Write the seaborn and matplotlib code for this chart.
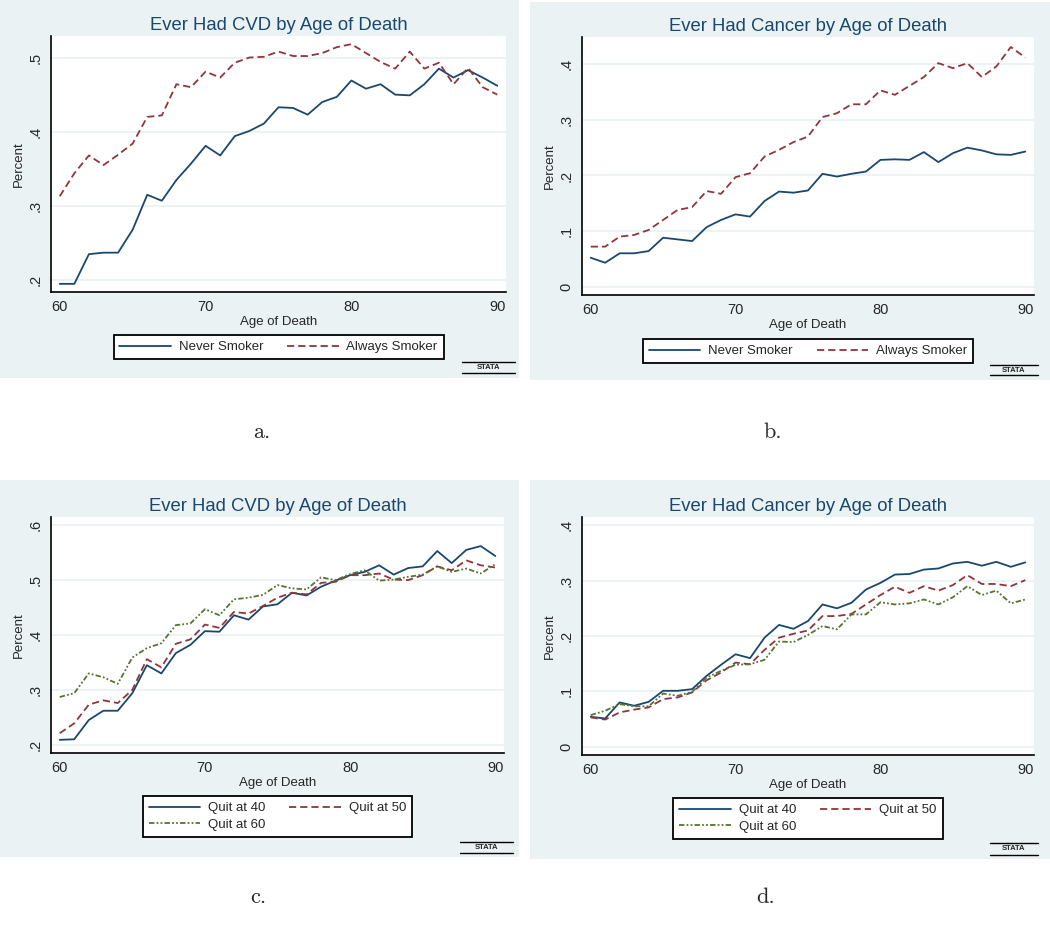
import pandas as pd
import matplotlib.pyplot as plt
import seaborn as sns
from matplotlib.patches import Rectangle
from matplotlib.lines import Line2D
from matplotlib.ticker import FuncFormatter

# ages at death, one point per year
ages = list(range(60, 91))

# panel a: ever had CVD
cvd_never = [0.195, 0.195, 0.235, 0.237, 0.237, 0.268, 0.315, 0.307, 0.335, 0.357,
             0.381, 0.368, 0.394, 0.401, 0.411, 0.433, 0.432, 0.423, 0.440, 0.447,
             0.469, 0.458, 0.464, 0.450, 0.449, 0.464, 0.485, 0.473, 0.483, 0.473, 0.462]
cvd_always = [0.313, 0.344, 0.368, 0.355, 0.369, 0.384, 0.420, 0.422, 0.464, 0.460,
              0.481, 0.473, 0.493, 0.500, 0.501, 0.508, 0.502, 0.502, 0.506, 0.514,
              0.518, 0.506, 0.494, 0.485, 0.508, 0.485, 0.493, 0.464, 0.486, 0.460, 0.450]

# panel b: ever had cancer
cancer_never = [0.052, 0.043, 0.060, 0.060, 0.064, 0.088, 0.085, 0.082, 0.107, 0.120,
                0.130, 0.126, 0.154, 0.171, 0.169, 0.173, 0.203, 0.198, 0.203, 0.207,
                0.228, 0.229, 0.228, 0.242, 0.224, 0.240, 0.250, 0.245, 0.238, 0.237, 0.243]
cancer_always = [0.072, 0.072, 0.090, 0.093, 0.102, 0.120, 0.138, 0.143, 0.172, 0.167,
                 0.197, 0.204, 0.234, 0.246, 0.260, 0.270, 0.305, 0.312, 0.328, 0.328,
                 0.353, 0.345, 0.361, 0.377, 0.402, 0.393, 0.402, 0.377, 0.396, 0.431, 0.412]

# panel c: CVD by quit age
cvd_quit40 = [0.209, 0.210, 0.245, 0.262, 0.262, 0.294, 0.345, 0.330, 0.367, 0.382,
              0.407, 0.406, 0.436, 0.428, 0.452, 0.456, 0.477, 0.472, 0.488, 0.499,
              0.509, 0.515, 0.527, 0.510, 0.522, 0.525, 0.553, 0.531, 0.555, 0.562, 0.544]
cvd_quit50 = [0.221, 0.239, 0.273, 0.281, 0.276, 0.300, 0.356, 0.341, 0.384, 0.392,
              0.419, 0.413, 0.442, 0.439, 0.453, 0.468, 0.477, 0.474, 0.495, 0.497,
              0.509, 0.509, 0.512, 0.501, 0.500, 0.509, 0.525, 0.518, 0.536, 0.527, 0.523]
cvd_quit60 = [0.287, 0.294, 0.330, 0.323, 0.311, 0.359, 0.376, 0.385, 0.418, 0.421,
              0.447, 0.436, 0.465, 0.468, 0.473, 0.491, 0.485, 0.483, 0.505, 0.500,
              0.511, 0.518, 0.499, 0.501, 0.506, 0.510, 0.525, 0.515, 0.521, 0.512, 0.529]

# panel d: cancer by quit age
cancer_quit40 = [0.054, 0.051, 0.080, 0.074, 0.081, 0.101, 0.101, 0.104, 0.128, 0.148,
                 0.167, 0.160, 0.197, 0.220, 0.213, 0.227, 0.257, 0.250, 0.260, 0.284,
                 0.296, 0.311, 0.312, 0.320, 0.322, 0.331, 0.334, 0.327, 0.334, 0.325, 0.333]
cancer_quit50 = [0.053, 0.049, 0.062, 0.067, 0.071, 0.086, 0.089, 0.098, 0.120, 0.134,
                 0.152, 0.149, 0.175, 0.197, 0.204, 0.210, 0.236, 0.236, 0.240, 0.257,
                 0.274, 0.289, 0.278, 0.290, 0.282, 0.292, 0.310, 0.294, 0.294, 0.290, 0.301]
cancer_quit60 = [0.057, 0.065, 0.077, 0.073, 0.073, 0.096, 0.092, 0.099, 0.125, 0.137,
                 0.148, 0.149, 0.157, 0.190, 0.189, 0.202, 0.218, 0.212, 0.239, 0.239,
                 0.261, 0.257, 0.259, 0.266, 0.257, 0.270, 0.290, 0.274, 0.282, 0.259, 0.266]

smoker_labels = ["Never Smoker", "Always Smoker"]
quit_labels = ["Quit at 40", "Quit at 50", "Quit at 60"]
cvd_ticks = [0.2, 0.3, 0.4, 0.5]
cancer_ticks = [0, 0.1, 0.2, 0.3, 0.4]
cvd_ticks_c = [0.2, 0.3, 0.4, 0.5, 0.6]

sns.set_style("white")
plt.rcParams["font.family"] = ["Liberation Sans", "DejaVu Sans"]

W, H = 1050, 935
BG = "#EAF2F3"
NAVY = "#1A476F"
MAROON = "#90353B"
GREEN = "#55752F"
colors = {"Never Smoker": NAVY, "Always Smoker": MAROON,
          "Quit at 40": NAVY, "Quit at 50": MAROON, "Quit at 60": GREEN}
dash_map = {"Never Smoker": "", "Always Smoker": (4, 2.2),
            "Quit at 40": "", "Quit at 50": (4, 2.2), "Quit at 60": (3, 1.2, 1, 1.2, 1, 1.2)}

fig = plt.figure(figsize=(W / 100, H / 100), dpi=100)
fig.patch.set_facecolor("white")


def box(l, t, r, b):
    return [l / W, 1 - b / H, (r - l) / W, (b - t) / H]


def stata_fmt(v, _):
    if abs(v) < 1e-9:
        return "0"
    return f"{v:.1f}".lstrip("0")


panels = [
    dict(bg=(0, 0, 519, 378), ax=(51, 36, 506, 292), title="Ever Had CVD by Age of Death",
         series=[cvd_never, cvd_always], labels=smoker_labels, ylim=(0.184, 0.529),
         ticks=cvd_ticks, leg_top=335, logo=(462, 362, 515, 373), cap=(262, 432, "a.")),
    dict(bg=(530, 2, 1050, 380), ax=(582, 37, 1034, 295), title="Ever Had Cancer by Age of Death",
         series=[cancer_never, cancer_always], labels=smoker_labels, ylim=(-0.015, 0.449),
         ticks=cancer_ticks, leg_top=339, logo=(990, 365, 1038, 375), cap=(773, 432, "b.")),
    dict(bg=(0, 480, 519, 857), ax=(51, 517, 504, 753), title="Ever Had CVD by Age of Death",
         series=[cvd_quit40, cvd_quit50, cvd_quit60], labels=quit_labels, ylim=(0.185, 0.615),
         ticks=cvd_ticks_c, leg_top=796, logo=(460, 842, 513, 853), cap=(258, 897, "c.")),
    dict(bg=(530, 480, 1050, 859), ax=(582, 517, 1034, 755), title="Ever Had Cancer by Age of Death",
         series=[cancer_quit40, cancer_quit50, cancer_quit60], labels=quit_labels, ylim=(-0.015, 0.415),
         ticks=cancer_ticks, leg_top=798, logo=(990, 843, 1038, 855), cap=(766, 897, "d.")),
]

for p in panels:
    l, t, r, b = p["bg"]
    fig.add_artist(Rectangle((l / W, 1 - b / H), (r - l) / W, (b - t) / H,
                             transform=fig.transFigure, facecolor=BG, edgecolor="none", zorder=-1))

    ax = fig.add_axes(box(*p["ax"]))
    ax.set_facecolor("white")

    df = pd.DataFrame({
        "age": ages * len(p["series"]),
        "pct": sum(p["series"], []),
        "group": [lab for lab in p["labels"] for _ in ages],
    })
    sns.lineplot(data=df, x="age", y="pct", hue="group", style="group",
                 hue_order=p["labels"], style_order=p["labels"],
                 palette={k: colors[k] for k in p["labels"]},
                 dashes={k: dash_map[k] for k in p["labels"]},
                 linewidth=1.3, legend=False, ax=ax)

    ax.set_xlim(59.4, 90.6)
    ax.set_ylim(*p["ylim"])
    ax.set_xticks([60, 70, 80, 90])
    ax.set_yticks(p["ticks"])
    ax.yaxis.set_major_formatter(FuncFormatter(stata_fmt))
    ax.yaxis.grid(True, color=BG, linewidth=1.3)
    ax.xaxis.grid(False)
    ax.set_axisbelow(True)
    for s in ["top", "right"]:
        ax.spines[s].set_visible(False)
    for s in ["left", "bottom"]:
        ax.spines[s].set_color("black")
        ax.spines[s].set_linewidth(1.2)
    ax.tick_params(direction="out", length=4, width=1, color="black", labelsize=10.5, pad=2)
    ax.tick_params(axis="y", labelrotation=90)
    for lab in ax.get_yticklabels():
        lab.set_va("center")

    ax.set_title(p["title"], fontsize=13.3, color=NAVY, pad=4)
    ax.set_xlabel("Age of Death", fontsize=9.5, labelpad=1)
    ax.set_ylabel("Percent", fontsize=9.5, labelpad=3)

    # legend rows filled left to right, as Stata does
    handles = [Line2D([], [], color=colors[k], linewidth=1.3,
                      linestyle=(0, dash_map[k]) if dash_map[k] else "-") for k in p["labels"]]
    labs = list(p["labels"])
    if len(labs) == 3:
        handles = [handles[0], handles[2], handles[1]]
        labs = [labs[0], labs[2], labs[1]]
    cx = (p["ax"][0] + p["ax"][2]) / 2 / W
    leg = ax.legend(handles, labs, ncol=2, loc="upper center",
                    bbox_to_anchor=(cx, 1 - p["leg_top"] / H), bbox_transform=fig.transFigure,
                    frameon=True, fancybox=False, framealpha=1, edgecolor="black",
                    fontsize=9.5, handlelength=3.9, handletextpad=0.6, columnspacing=1.8,
                    borderpad=0.45, labelspacing=0.35, borderaxespad=0)
    leg.get_frame().set_linewidth(1.3)

    # small Stata logo in the corner
    lx0, ly0, lx1, ly1 = p["logo"]
    fig.text((lx0 + lx1) / 2 / W, 1 - (ly0 + ly1) / 2 / H, "STATA", fontsize=5.5,
             weight="bold", ha="center", va="center")
    for yy in (ly0, ly1):
        fig.add_artist(Line2D([lx0 / W, lx1 / W], [1 - yy / H, 1 - yy / H],
                              transform=fig.transFigure, color="black", linewidth=1))

    cx0, cy0, ctext = p["cap"]
    fig.text(cx0 / W, 1 - cy0 / H, ctext, fontsize=16, family="cmr10", ha="center", va="center")

fig.savefig("out.png", dpi=100)
